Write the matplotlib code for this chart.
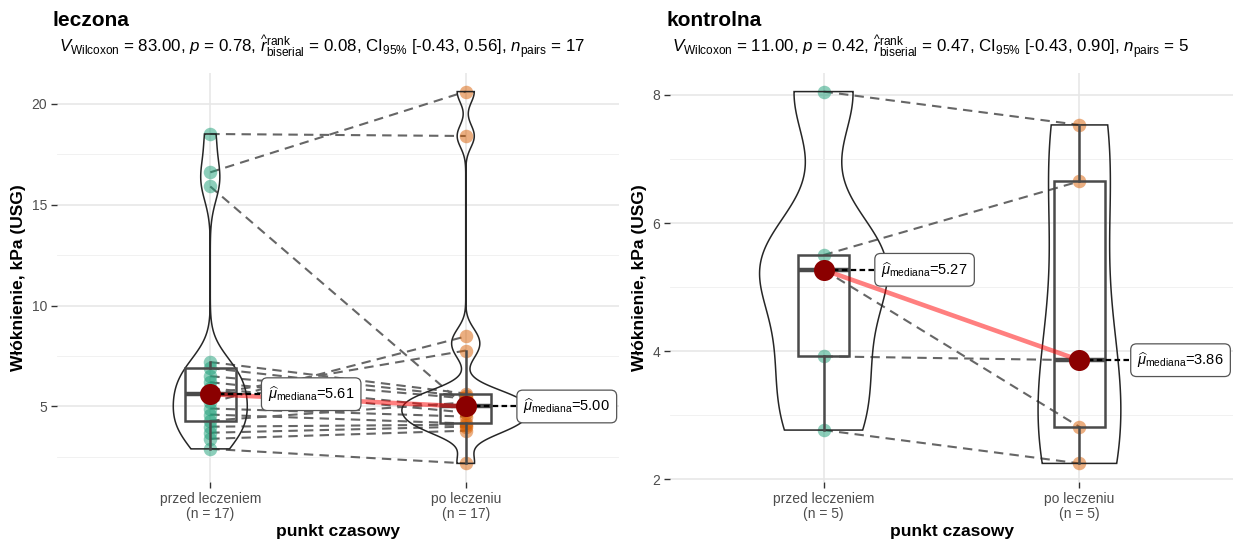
import numpy as np
import matplotlib
matplotlib.use("Agg")
import matplotlib.pyplot as plt
from matplotlib.patches import Polygon, Rectangle

plt.rcParams['font.family'] = ['Liberation Sans', 'DejaVu Sans']
plt.rcParams['mathtext.fontset'] = 'custom'
plt.rcParams['mathtext.rm'] = 'Liberation Sans'
plt.rcParams['mathtext.it'] = 'Liberation Sans:italic'
plt.rcParams['mathtext.bf'] = 'Liberation Sans:bold'

# ---- data -------------------------------------------------------------
conditions = ["przed leczeniem", "po leczeniu"]

# paired measurements (same order = same subject)
leczona_przed = [18.5, 16.6, 15.9, 2.9, 7.2, 6.9, 6.5, 6.2, 5.9, 5.61, 5.2,
                 4.9, 4.6, 4.3, 4.0, 3.7, 3.4]
leczona_po = [18.4, 20.6, 5.0, 2.18, 5.64, 5.5, 5.4, 4.9, 4.7, 7.77, 8.47,
              4.5, 4.16, 5.2, 4.1, 4.0, 3.8]

kontrolna_przed = [8.05, 5.5, 5.27, 3.92, 2.77]
kontrolna_po = [7.53, 6.65, 2.82, 3.86, 2.25]

group_titles = ["leczona", "kontrolna"]
subtitles = [
    r"$V_{\mathrm{Wilcoxon}}$ = 83.00, $p$ = 0.78, "
    r"$\widehat{r}_{\mathrm{biserial}}^{\mathrm{rank}}$ = 0.08, "
    r"CI$_{95\%}$ [-0.43, 0.56], $n_{\mathrm{pairs}}$ = 17",
    r"$V_{\mathrm{Wilcoxon}}$ = 11.00, $p$ = 0.42, "
    r"$\widehat{r}_{\mathrm{biserial}}^{\mathrm{rank}}$ = 0.47, "
    r"CI$_{95\%}$ [-0.43, 0.90], $n_{\mathrm{pairs}}$ = 5",
]
y_ticks = [[5, 10, 15, 20], [2, 4, 6, 8]]
y_minor = [[2.5, 7.5, 12.5, 17.5], [3, 5, 7]]

y_label = "Włóknienie, kPa (USG)"
x_label = "punkt czasowy"

point_colors = ["#1B9E77", "#D95F02"]
median_color = "#8B0000"
text_gray = "#4D4D4D"

W, H = 1236, 543


def kde_nrd0(values, grid):
    v = np.asarray(values, float)
    n = len(v)
    sd = v.std(ddof=1)
    iqr = np.subtract(*np.percentile(v, [75, 25]))
    lo = min(sd, iqr / 1.34) if iqr > 0 else sd
    bw = 0.9 * lo * n ** -0.2
    z = (grid[:, None] - v[None, :]) / bw
    return np.exp(-0.5 * z ** 2).sum(axis=1) / (n * bw * np.sqrt(2 * np.pi))


def box_stats(values):
    v = np.sort(np.asarray(values, float))
    q1, med, q3 = np.percentile(v, [25, 50, 75])
    iqr = q3 - q1
    lo = v[v >= q1 - 1.5 * iqr].min()
    hi = v[v <= q3 + 1.5 * iqr].max()
    return q1, med, q3, lo, hi


def draw_panel(ax, before, after, title, subtitle, yt, ym, left_px):
    groups = [before, after]
    xs = [1, 2]

    # violins, area-scaled across both groups
    grids, dens = [], []
    for g in groups:
        grid = np.linspace(min(g), max(g), 512)
        grids.append(grid)
        dens.append(kde_nrd0(g, grid))
    dmax = max(d.max() for d in dens)
    half = 0.25
    for x, grid, d in zip(xs, grids, dens):
        w = d / dmax * half
        xy = np.concatenate([np.column_stack([x - w, grid]),
                             np.column_stack([x + w[::-1], grid[::-1]])])
        ax.add_patch(Polygon(xy, closed=True, fill=False, ec="#262626",
                             lw=1.1, zorder=4))

    # paired dashed connections
    for b, a in zip(before, after):
        ax.plot([1, 2], [b, a], ls=(0, (4.5, 3)), color="#666666", lw=1.5,
                zorder=2)

    # raw points
    for x, g, c in zip(xs, groups, point_colors):
        ax.scatter([x] * len(g), g, s=95, color=c, alpha=0.5, lw=0,
                   zorder=3)

    # boxplots
    meds = []
    for x, g in zip(xs, groups):
        q1, med, q3, lo, hi = box_stats(g)
        meds.append(med)
        bw = 0.1
        ax.add_patch(Rectangle((x - bw, q1), 2 * bw, q3 - q1, fill=False,
                               ec="#4a4a4a", lw=1.8, zorder=5))
        ax.plot([x - bw, x + bw], [med, med], color="#4a4a4a", lw=3.2,
                zorder=5, solid_capstyle="butt")
        ax.plot([x, x], [q3, hi], color="#4a4a4a", lw=1.8, zorder=5)
        ax.plot([x, x], [lo, q1], color="#4a4a4a", lw=1.8, zorder=5)

    # line between medians
    ax.plot(xs, meds, color="red", alpha=0.5, lw=3.3, zorder=6,
            solid_capstyle="round")
    for x, med in zip(xs, meds):
        ax.plot([x, x + 0.2], [med, med], color="black", lw=1.6,
                ls=(0, (2.5, 1.5)), zorder=6)
        ax.scatter([x], [med], s=230, color=median_color, zorder=7, lw=0)
        ax.text(x + 0.226, med,
                r"$\widehat{\mu}_{\mathrm{mediana}}$=" + f"{med:.2f}",
                ha="left", va="center", fontsize=10.5, zorder=8,
                bbox=dict(boxstyle="round,pad=0.45,rounding_size=0.4",
                          fc="white", ec="#555555", lw=0.9))

    # scales
    allv = np.concatenate([before, after])
    lo, hi = allv.min(), allv.max()
    pad = 0.05 * (hi - lo)
    ax.set_ylim(lo - pad, hi + pad)
    ax.set_xlim(0.4, 2.6)
    ax.set_xticks(xs)
    ax.set_xticklabels([f"{c}\n(n = {len(g)})"
                        for c, g in zip(conditions, groups)],
                       linespacing=1.15)
    ax.set_yticks(yt)
    ax.set_yticks(ym, minor=True)
    ax.set_yticklabels([str(t) for t in yt])
    ax.grid(which="major", color="#E6E6E6", lw=1.1)
    ax.grid(which="minor", axis="y", color="#EFEFEF", lw=0.6)
    ax.set_axisbelow(True)
    for s in ax.spines.values():
        s.set_visible(False)
    ax.tick_params(axis="both", which="major", length=4, width=1.0,
                   color="#333333", labelcolor=text_gray, labelsize=10,
                   pad=3)
    ax.tick_params(axis="y", which="minor", length=0)
    ax.set_xlabel(x_label, fontsize=12.5, fontweight="bold", labelpad=2)
    ax.set_ylabel(y_label, fontsize=12.5, fontweight="bold", labelpad=4)

    fig = ax.figure
    fig.text((left_px - 4) / W, 1 - 20 / H, title, fontsize=15,
             fontweight="bold", ha="left", va="center")
    fig.text((left_px + 2) / W, 1 - 47 / H, subtitle, fontsize=12.2,
             ha="left", va="center")


fig = plt.figure(figsize=(W / 100, H / 100), dpi=100)
fig.patch.set_facecolor("white")
top, bottom = 73, 482
panels = [(57, 619), (670, 1233)]
ax1 = fig.add_axes([panels[0][0] / W, 1 - bottom / H,
                    (panels[0][1] - panels[0][0]) / W, (bottom - top) / H])
ax2 = fig.add_axes([panels[1][0] / W, 1 - bottom / H,
                    (panels[1][1] - panels[1][0]) / W, (bottom - top) / H])

draw_panel(ax1, leczona_przed, leczona_po, group_titles[0], subtitles[0],
           y_ticks[0], y_minor[0], panels[0][0])
draw_panel(ax2, kontrolna_przed, kontrolna_po, group_titles[1], subtitles[1],
           y_ticks[1], y_minor[1], panels[1][0])

fig.savefig("out.png", dpi=100, facecolor="white")
